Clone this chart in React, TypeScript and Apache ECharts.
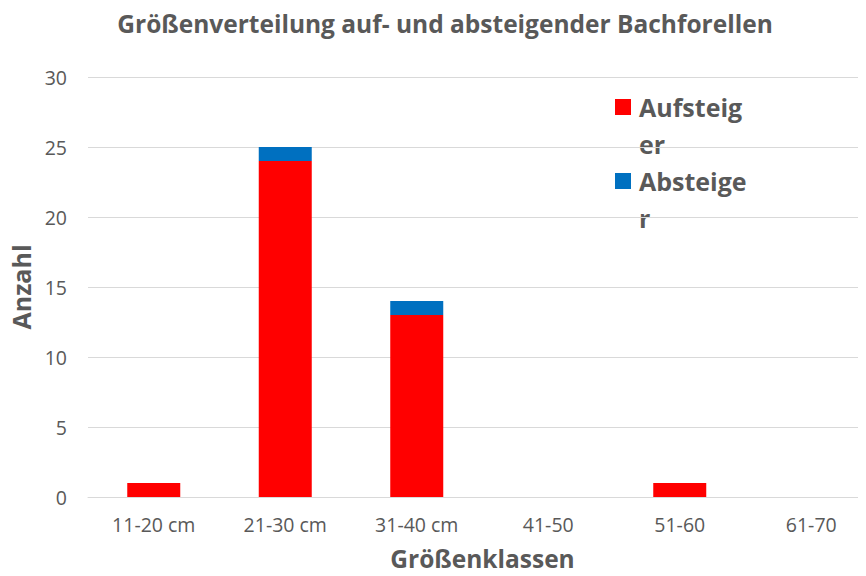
import React, { useEffect, useRef } from "react";
import * as echarts from "echarts";

const categories = ["11-20 cm", "21-30 cm", "31-40 cm", "41-50", "51-60", "61-70"];
const aufsteiger = [1, 24, 13, 0, 1, 0];
const absteiger = [0, 1, 1, 0, 0, 0];
const yTicks = { min: 0, max: 30, interval: 5 };
const seriesNames = ["Aufsteiger", "Absteiger"];
const legendLines = [["Aufsteig", "er"], ["Absteige", "r"]];
const colors = ["#FF0000", "#0070C0"];

const FONT = "'Open Sans', sans-serif";
const GRAY = "#595959";

export default function App() {
  const ref = useRef<HTMLDivElement>(null);
  useEffect(() => {
    const chart = echarts.init(ref.current!, undefined, { renderer: "svg" });
    const legendGraphics: any[] = [];
    legendLines.forEach((lines, i) => {
      const top = 98 + i * 74;
      legendGraphics.push({
        type: "rect",
        shape: { x: 615, y: top + 1, width: 16, height: 16 },
        style: { fill: colors[i] },
      });
      legendGraphics.push({
        type: "text",
        x: 639,
        y: top - 10,
        style: {
          text: lines.join("\n"),
          fill: GRAY,
          font: `bold 25px ${FONT}`,
          lineHeight: 37,
        },
      });
    });
    chart.setOption({
      animation: false,
      title: {
        text: "Größenverteilung auf- und absteigender Bachforellen",
        left: 440,
        textAlign: "center",
        top: 6,
        textStyle: { color: GRAY, fontFamily: FONT, fontWeight: "bold", fontSize: 24.5 },
      },
      legend: { show: false, data: seriesNames },
      grid: { left: 88, top: 77, width: 789, height: 420, containLabel: false, outerBoundsMode: "none" },
      xAxis: {
        type: "category",
        data: categories,
        axisLine: { lineStyle: { color: "#D9D9D9" } },
        axisTick: { show: false },
        axisLabel: { color: GRAY, fontFamily: FONT, fontSize: 19.5, margin: 17 },
        name: "Größenklassen",
        nameLocation: "middle",
        nameGap: 49,
        nameTextStyle: { color: GRAY, fontFamily: FONT, fontWeight: "bold", fontSize: 24.5 },
      },
      yAxis: {
        type: "value",
        min: yTicks.min,
        max: yTicks.max,
        interval: yTicks.interval,
        axisLine: { show: false },
        axisTick: { show: false },
        splitLine: { lineStyle: { color: "#D9D9D9" } },
        axisLabel: { color: GRAY, fontFamily: FONT, fontSize: 19.5, margin: 21 },
        name: "Anzahl",
        nameLocation: "middle",
        nameGap: 54,
        nameTextStyle: { color: GRAY, fontFamily: FONT, fontWeight: "bold", fontSize: 25 },
      },
      series: [
        {
          name: seriesNames[0],
          type: "bar",
          stack: "a",
          data: aufsteiger,
          barWidth: 53,
          itemStyle: { color: colors[0] },
        },
        {
          name: seriesNames[1],
          type: "bar",
          stack: "a",
          data: absteiger,
          barWidth: 53,
          itemStyle: { color: colors[1] },
        },
      ],
      graphic: legendGraphics,
    });
    return () => chart.dispose();
  }, []);
  return <div ref={ref} style={{ width: 866, height: 576, margin: -8, background: "#fff" }} />;
}
